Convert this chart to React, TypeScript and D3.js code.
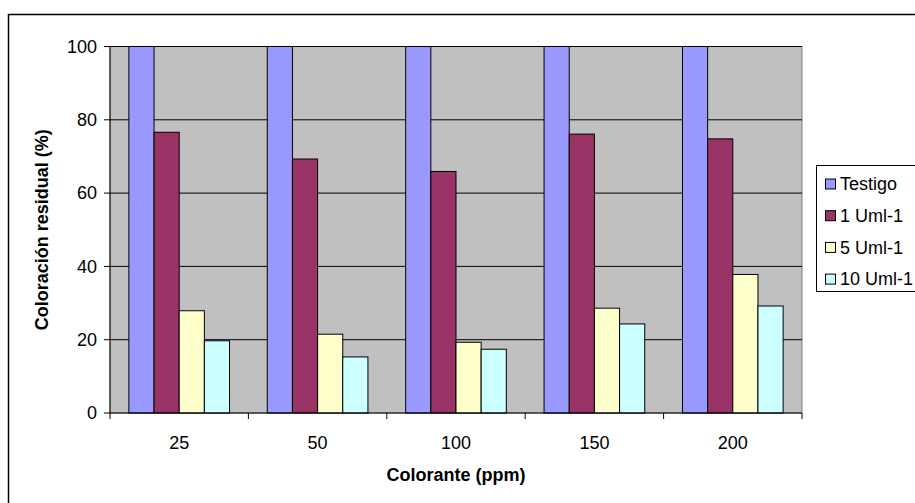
import React from "react";
import * as d3 from "d3";

const categories = ["25", "50", "100", "150", "200"];
const seriesNames = ["Testigo", "1 Uml-1", "5 Uml-1", "10 Uml-1"];
const testigo = [100, 100, 100, 100, 100];
const uml1 = [76.6, 69.3, 65.9, 76.1, 74.8];
const uml5 = [27.9, 21.5, 19.3, 28.6, 37.8];
const uml10 = [19.7, 15.3, 17.4, 24.3, 29.2];
const yTicks = [0, 20, 40, 60, 80, 100];
const colors = ["#9999FF", "#993366", "#FFFFCC", "#CCFFFF"];

const W = 915;
const H = 503;
const plot = { left: 110, right: 802, top: 46.5, bottom: 413 };
const font = "'Liberation Sans', Arial, sans-serif";
const FS = 18;

export default function App() {
  const series = [testigo, uml1, uml5, uml10];
  const x = d3
    .scaleBand<string>()
    .domain(categories)
    .range([plot.left, plot.right])
    .paddingInner(0)
    .paddingOuter(0);
  const groupW = x.bandwidth();
  const barW = groupW / 5.5;
  const gap = (groupW - 4 * barW) / 2;
  const y = d3.scaleLinear().domain([0, 100]).range([plot.bottom, plot.top]);

  return (
    <svg
      width={W}
      height={H}
      style={{ position: "absolute", left: 0, top: 0, background: "#fff" }}
      fontFamily={font}
    >
      <rect x={8.5} y={14.5} width={W + 20} height={H + 20} fill="#fff" stroke="#000" strokeWidth={1.5} />
      <rect
        x={plot.left}
        y={plot.top}
        width={plot.right - plot.left}
        height={plot.bottom - plot.top}
        fill="#C0C0C0"
        stroke="#808080"
        strokeWidth={1}
      />
      {yTicks.map((t) => (
        <g key={t}>
          {t > 0 && (
            <line x1={plot.left} x2={plot.right} y1={y(t)} y2={y(t)} stroke="#000" strokeWidth={1} />
          )}
          <line x1={plot.left - 6} x2={plot.left} y1={y(t)} y2={y(t)} stroke="#000" strokeWidth={1} />
          <text x={plot.left - 13} y={y(t)} dy="0.35em" textAnchor="end" fontSize={FS} fill="#000">
            {t}
          </text>
        </g>
      ))}
      {categories.map((c, ci) => (
        <g key={c}>
          {series.map((s, si) => (
            <rect
              key={si}
              x={(x(c) as number) + gap + si * barW}
              y={y(s[ci])}
              width={barW}
              height={plot.bottom - y(s[ci])}
              fill={colors[si]}
              stroke="#000"
              strokeWidth={1}
            />
          ))}
          <text
            x={(x(c) as number) + groupW / 2}
            y={442.5}
            dy="0.35em"
            textAnchor="middle"
            fontSize={FS}
            fill="#000"
          >
            {c}
          </text>
        </g>
      ))}
      <line x1={plot.left} x2={plot.left} y1={plot.top} y2={plot.bottom} stroke="#000" strokeWidth={1} />
      <line x1={plot.left} x2={plot.right} y1={plot.bottom} y2={plot.bottom} stroke="#000" strokeWidth={1} />
      {[...categories.map((c) => x(c) as number), plot.right].map((v, i) => (
        <line key={i} x1={v} x2={v} y1={plot.bottom} y2={plot.bottom + 6} stroke="#000" strokeWidth={1} />
      ))}
      <text
        x={456}
        y={475}
        dy="0.35em"
        textAnchor="middle"
        fontSize={FS}
        fontWeight="bold"
        fill="#000"
      >
        Colorante (ppm)
      </text>
      <text
        transform={`translate(42, ${(plot.top + plot.bottom) / 2}) rotate(-90)`}
        dy="0.35em"
        textAnchor="middle"
        fontSize={FS}
        fontWeight="bold"
        fill="#000"
      >
        Coloración residual (%)
      </text>
      <rect x={816.5} y={165.5} width={140} height={126} fill="#fff" stroke="#000" strokeWidth={1} />
      {seriesNames.map((n, i) => {
        const cy = 184 + i * 31.7;
        return (
          <g key={n}>
            <rect x={825.5} y={cy - 5} width={10} height={10} fill={colors[i]} stroke="#000" strokeWidth={1} />
            <text x={840} y={cy} dy="0.35em" fontSize={FS} fill="#000">
              {n}
            </text>
          </g>
        );
      })}
    </svg>
  );
}
